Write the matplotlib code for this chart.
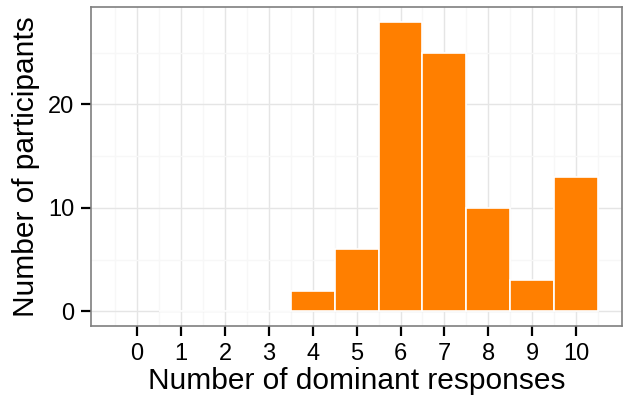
import matplotlib
matplotlib.use('Agg')
import matplotlib.pyplot as plt
import numpy as np

# dados do histograma
respostas = [0, 1, 2, 3, 4, 5, 6, 7, 8, 9, 10]
participantes = [0, 0, 0, 0, 2, 6, 28, 25, 10, 3, 13]

plt.rcParams['font.family'] = ['Liberation Sans', 'DejaVu Sans']

fig = plt.figure(figsize=(6.24, 3.98), dpi=100)
ax = fig.add_axes([0.146, 0.181, 0.851, 0.801])

# primeiro barra em x=0 sem contorno (altura zero)
cores_borda = ['none'] + ['white'] * (len(respostas) - 1)
ax.bar(respostas, participantes, width=1.0, color='#FF7F00',
       edgecolor=cores_borda, linewidth=1.2, zorder=3)

ax.set_xlim(-1.05, 11.05)
ax.set_ylim(-1.4, 29.4)

ax.set_xticks(respostas)
ax.set_xticks(np.arange(-0.5, 11, 1), minor=True)
ax.set_yticks([0, 10, 20])
ax.set_yticks([5, 15, 25], minor=True)

ax.grid(which='major', color='#e5e5e5', linewidth=1.0, zorder=0)
ax.grid(which='minor', color='#f7f7f7', linewidth=1.0, zorder=0)
ax.set_axisbelow(True)

for s in ax.spines.values():
    s.set_color('#7f7f7f')
    s.set_linewidth(1.2)

ax.tick_params(which='major', length=7, width=1.6, color='black',
               labelsize=17, pad=5)
ax.tick_params(which='minor', length=0)

ax.set_xlabel('Number of dominant responses', fontsize=21.5, labelpad=2)
ax.set_ylabel('Number of participants', fontsize=21.5, labelpad=6)

fig.savefig('out.png', dpi=100)
